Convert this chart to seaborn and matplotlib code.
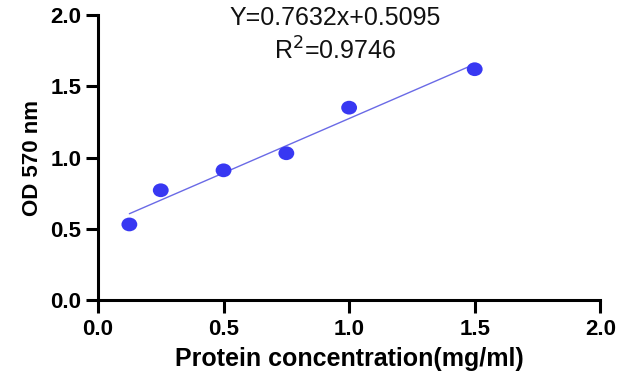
import matplotlib
matplotlib.use("Agg")
import matplotlib.pyplot as plt
from matplotlib.path import Path
from matplotlib.transforms import Affine2D
import numpy as np
import pandas as pd
import seaborn as sns

# standard curve readings
conc = [0.125, 0.25, 0.5, 0.75, 1.0, 1.5]
od570 = [0.53, 0.77, 0.91, 1.03, 1.35, 1.62]
eq_text = "Y=0.7632x+0.5095"
r2_text = "R$^2$=0.9746"
ticks = [0.0, 0.5, 1.0, 1.5, 2.0]

sns.set_theme(style="ticks")
plt.rcParams["font.family"] = ["Liberation Sans", "DejaVu Sans"]
plt.rcParams["text.color"] = "black"
plt.rcParams["axes.labelcolor"] = "black"
plt.rcParams["xtick.color"] = "black"
plt.rcParams["ytick.color"] = "black"

df = pd.DataFrame({"conc": conc, "od": od570})

# slightly wide oval dots
oval = Path.unit_circle().transformed(Affine2D().scale(1.15, 1.0))

fig = plt.figure(figsize=(6.24, 3.87), dpi=100)
ax = fig.add_axes([0.157, 0.225, 0.805, 0.736])

sns.regplot(data=df, x="conc", y="od", ax=ax, ci=None, truncate=True,
            marker=oval,
            scatter_kws={"s": 130, "color": "#3838f2", "edgecolor": "none",
                         "alpha": 1, "zorder": 3},
            line_kws={"color": "#6a6ae6", "linewidth": 1.0})

ax.set_xlim(0, 2.0)
ax.set_ylim(0, 2.0)
ax.set_xticks(ticks)
ax.set_yticks(ticks)
ax.set_xticklabels([f"{t:.1f}" for t in ticks], fontweight="bold", fontsize=16)
ax.set_yticklabels([f"{t:.1f}" for t in ticks], fontweight="bold", fontsize=16)
ax.tick_params(width=2.2, length=9, direction="out")
ax.tick_params(axis="x", pad=5)
ax.tick_params(axis="y", pad=3)
for s in ["left", "bottom"]:
    ax.spines[s].set_linewidth(2.2)
    ax.spines[s].set_color("black")
sns.despine(ax=ax)

ax.set_xlabel("Protein concentration(mg/ml)", fontweight="bold", fontsize=18,
              labelpad=5)
ax.set_ylabel("OD 570 nm", fontweight="bold", fontsize=16, labelpad=5)

ax.text(0.945, 1.98, eq_text, ha="center", va="center", fontsize=18,
        color="#111111")
ax.text(0.945, 1.75, r2_text, ha="center", va="center", fontsize=18,
        color="#111111")

fig.savefig("out.png", dpi=100)
